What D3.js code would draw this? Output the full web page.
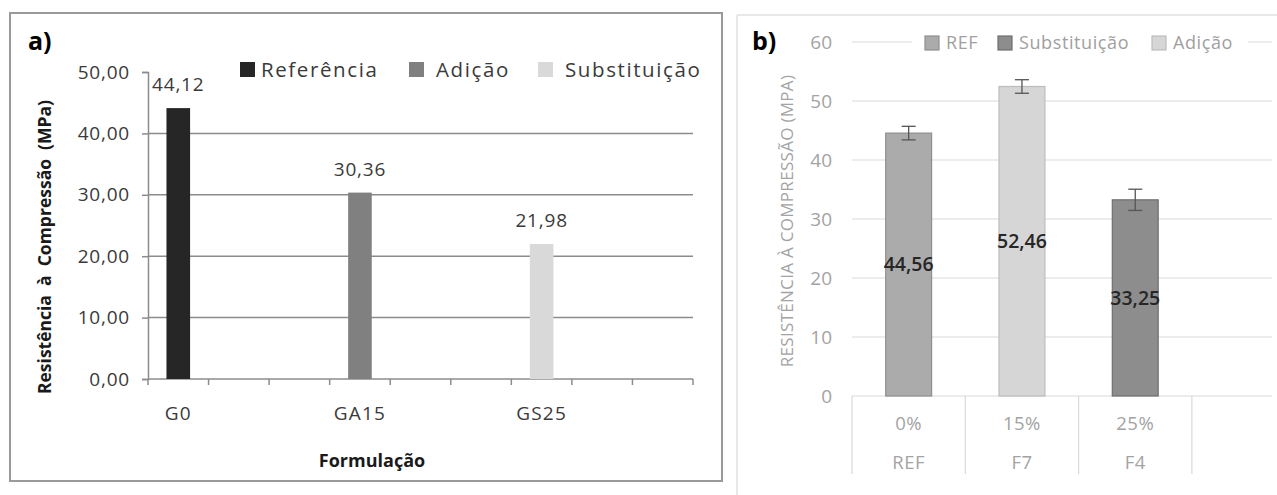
<!DOCTYPE html>
<html>
<head>
<meta charset="utf-8">
<script src="https://cdn.jsdelivr.net/npm/d3@7"></script>
<style>
  html, body { margin: 0; padding: 0; background: #fff; }
  svg { display: block; font-family: "Open Sans", "Noto Sans", sans-serif; }
</style>
</head>
<body>
<svg id="chart" width="1277" height="495"></svg>
<script>
// ---- Panel a: compressive strength by formulation ----
const categoriesA = ["G0", "GA15", "GS25"];
const seriesA = ["Referência", "Adição", "Substituição"];
const valuesA = [44.12, 30.36, 21.98];
const yTicksA = [0, 10, 20, 30, 40, 50];

// ---- Panel b: compressive strength with error bars ----
const codesB = ["REF", "F7", "F4"];
const percentsB = ["0%", "15%", "25%"];
const seriesB = ["REF", "Substituição", "Adição"];
const barSeriesB = ["REF", "Adição", "Substituição"];
const valuesB = [44.56, 52.46, 33.25];
const errorsB = [1.15, 1.15, 1.8];
const yTicksB = [0, 10, 20, 30, 40, 50, 60];

const ptLocale = d3.formatLocale({ decimal: ",", thousands: ".", grouping: [3], currency: ["R$", ""] });
const fmt2 = ptLocale.format(".2f");

const svg = d3.select("#chart");

// ================= Panel a =================
const colorA = d3.scaleOrdinal().domain(seriesA).range(["#262626", "#808080", "#d9d9d9"]);
const gA = svg.append("g");

gA.append("rect")
  .attr("x", 10).attr("y", 13).attr("width", 712).attr("height", 468)
  .attr("fill", "#fff").attr("stroke", "#9a9a9a").attr("stroke-width", 2);

const yA = d3.scaleLinear().domain([0, 50]).range([379, 72]);
// nine slots along the axis; each formulation sits every third slot
const slotsA = d3.range(9);
const xA = d3.scaleBand().domain(slotsA).range([148, 693]);
const slotOf = i => i * 3;

// horizontal gridlines
gA.append("g").selectAll("line")
  .data(yTicksA.filter(t => t > 0 && t < 50))
  .join("line")
  .attr("x1", 148).attr("x2", 693)
  .attr("y1", d => yA(d)).attr("y2", d => yA(d))
  .attr("stroke", "#8c8c8c").attr("stroke-width", 1.5);

// y axis
const yAxisA = d3.axisLeft(yA).tickValues(yTicksA).tickSize(6).tickPadding(12).tickFormat(fmt2);
const gyA = gA.append("g").attr("transform", "translate(148,0)").call(yAxisA);
gyA.select(".domain").attr("stroke", "#8c8c8c").attr("stroke-width", 1.5);
gyA.selectAll(".tick line").attr("stroke", "#8c8c8c").attr("stroke-width", 1.5);
gyA.selectAll(".tick text")
  .attr("font-family", "Open Sans").attr("font-size", 19).attr("letter-spacing", 0.8)
  .attr("fill", "#3a3a3a");

// x axis with ticks between slots
const gxA = gA.append("g");
gxA.append("line").attr("x1", 148).attr("x2", 693).attr("y1", 379).attr("y2", 379)
  .attr("stroke", "#8c8c8c").attr("stroke-width", 1.5);
gxA.selectAll("line.tk")
  .data(d3.range(10))
  .join("line").attr("class", "tk")
  .attr("x1", d => 148 + d * xA.step()).attr("x2", d => 148 + d * xA.step())
  .attr("y1", 379).attr("y2", 385)
  .attr("stroke", "#8c8c8c").attr("stroke-width", 1.5);
gxA.selectAll("text")
  .data(categoriesA)
  .join("text")
  .attr("x", (d, i) => xA(slotOf(i)) + xA.bandwidth() / 2)
  .attr("y", 420)
  .attr("text-anchor", "middle")
  .attr("font-size", 19).attr("letter-spacing", 1.2)
  .attr("fill", "#3a3a3a")
  .text(d => d);

// bars
const barWA = xA.bandwidth() * 0.39;
gA.append("g").selectAll("rect")
  .data(valuesA)
  .join("rect")
  .attr("x", (d, i) => xA(slotOf(i)) + xA.bandwidth() / 2 - barWA / 2)
  .attr("y", d => yA(d))
  .attr("width", barWA)
  .attr("height", d => yA(0) - yA(d))
  .attr("fill", (d, i) => colorA(seriesA[i]));

// value labels
gA.append("g").selectAll("text")
  .data(valuesA)
  .join("text")
  .attr("x", (d, i) => xA(slotOf(i)) + xA.bandwidth() / 2)
  .attr("y", d => yA(d) - 17)
  .attr("text-anchor", "middle")
  .attr("font-size", 19).attr("letter-spacing", 0.8)
  .attr("fill", "#3a3a3a")
  .text(d => fmt2(d));

// legend
const legA = gA.append("g");
const legXA = [240, 409, 538];
seriesA.forEach((s, i) => {
  legA.append("rect").attr("x", legXA[i]).attr("y", 62).attr("width", 15).attr("height", 15)
    .attr("fill", colorA(s));
  legA.append("text").attr("x", legXA[i] + (i === 0 ? 21 : 27)).attr("y", 77)
    .attr("font-size", 20.5).attr("letter-spacing", 1.6).attr("fill", "#3a3a3a")
    .text(s);
});

// titles
gA.append("text").attr("x", 28).attr("y", 50)
  .attr("font-size", 25).attr("font-weight", 700).attr("fill", "#000").text("a)");
gA.append("text")
  .attr("transform", "translate(51,247) rotate(-90)")
  .attr("text-anchor", "middle")
  .attr("font-size", 17.5).attr("font-weight", 700).attr("fill", "#1a1a1a")
  .attr("xml:space", "preserve").style("white-space", "pre")
  .text("Resistência  à  Compressão  (MPa)");
gA.append("text").attr("x", 372).attr("y", 467)
  .attr("text-anchor", "middle")
  .attr("font-size", 18).attr("font-weight", 700).attr("fill", "#1a1a1a")
  .text("Formulação");

// ================= Panel b =================
const gB = svg.append("g");
const colorB = d3.scaleOrdinal().domain(seriesB).range(["#ababab", "#8d8d8d", "#d6d6d6"]);
const strokeB = d3.scaleOrdinal().domain(seriesB).range(["#8f8f8f", "#6f6f6f", "#bdbdbd"]);

// frame edges
gB.append("line").attr("x1", 737).attr("x2", 1277).attr("y1", 15).attr("y2", 15)
  .attr("stroke", "#e0e0e0").attr("stroke-width", 1.5);
gB.append("line").attr("x1", 737).attr("x2", 737).attr("y1", 15).attr("y2", 495)
  .attr("stroke", "#e0e0e0").attr("stroke-width", 1.5);

const yB = d3.scaleLinear().domain([0, 60]).range([396, 42]);
const slotsB = d3.range(4);
const xB = d3.scaleBand().domain(slotsB).range([852, 852 + 4 * 113.3]);

// gridlines
gB.append("g").selectAll("line")
  .data(yTicksB)
  .join("line")
  .attr("x1", 852).attr("x2", 1272)
  .attr("y1", d => yB(d)).attr("y2", d => yB(d))
  .attr("stroke", "#d9d9d9").attr("stroke-width", 1.2);

// y tick labels
gB.append("g").selectAll("text")
  .data(yTicksB)
  .join("text")
  .attr("x", 832).attr("y", d => yB(d))
  .attr("dy", "0.35em")
  .attr("text-anchor", "end")
  .attr("font-size", 19).attr("fill", "#a3a3a3")
  .text(d => d);

// category separators and two-level labels
gB.append("g").selectAll("line")
  .data(d3.range(4))
  .join("line")
  .attr("x1", d => xB(d)).attr("x2", d => xB(d))
  .attr("y1", 396).attr("y2", 474)
  .attr("stroke", "#d9d9d9").attr("stroke-width", 1.2);
gB.append("g").selectAll("text")
  .data(percentsB)
  .join("text")
  .attr("x", (d, i) => xB(i) + xB.bandwidth() / 2).attr("y", 430)
  .attr("text-anchor", "middle")
  .attr("font-size", 18.5).attr("letter-spacing", 0.5).attr("fill", "#a3a3a3")
  .text(d => d);
gB.append("g").selectAll("text")
  .data(codesB)
  .join("text")
  .attr("x", (d, i) => xB(i) + xB.bandwidth() / 2).attr("y", 469)
  .attr("text-anchor", "middle")
  .attr("font-size", 18.5).attr("letter-spacing", 0.5).attr("fill", "#a3a3a3")
  .text(d => d);

// bars
const barWB = xB.bandwidth() * 0.405;
gB.append("g").selectAll("rect")
  .data(valuesB)
  .join("rect")
  .attr("x", (d, i) => xB(i) + xB.bandwidth() / 2 - barWB / 2)
  .attr("y", d => yB(d))
  .attr("width", barWB)
  .attr("height", d => yB(0) - yB(d))
  .attr("fill", (d, i) => colorB(barSeriesB[i]))
  .attr("stroke", (d, i) => strokeB(barSeriesB[i]))
  .attr("stroke-width", 1.2);

// error bars
const errG = gB.append("g").attr("stroke", "#555").attr("stroke-width", 1.3);
valuesB.forEach((v, i) => {
  const cx = xB(i) + xB.bandwidth() / 2;
  const e = errorsB[i];
  errG.append("line").attr("x1", cx).attr("x2", cx).attr("y1", yB(v + e)).attr("y2", yB(v - e));
  errG.append("line").attr("x1", cx - 7).attr("x2", cx + 7).attr("y1", yB(v + e)).attr("y2", yB(v + e));
  errG.append("line").attr("x1", cx - 7).attr("x2", cx + 7).attr("y1", yB(v - e)).attr("y2", yB(v - e));
});

// value labels at mid-height of bars
gB.append("g").selectAll("text")
  .data(valuesB)
  .join("text")
  .attr("x", (d, i) => xB(i) + xB.bandwidth() / 2)
  .attr("y", d => yB(d / 2))
  .attr("dy", "0.35em")
  .attr("text-anchor", "middle")
  .attr("font-size", 19.5).attr("font-weight", 600).attr("fill", "#262626")
  .text(d => fmt2(d));

// legend over the top gridline
const legB = gB.append("g");
legB.append("rect").attr("x", 912).attr("y", 30).attr("width", 336).attr("height", 26).attr("fill", "#fff");
const legXB = [925, 998, 1152];
const legTXB = [946, 1019, 1173];
seriesB.forEach((s, i) => {
  legB.append("rect").attr("x", legXB[i]).attr("y", 36).attr("width", 14).attr("height", 14)
    .attr("fill", colorB(s)).attr("stroke", strokeB(s)).attr("stroke-width", 1.2);
  legB.append("text").attr("x", legTXB[i]).attr("y", 43).attr("dy", "0.35em")
    .attr("font-size", 18).attr("letter-spacing", 0.6).attr("fill", "#a0a0a0")
    .text(s);
});

// titles
gB.append("text").attr("x", 752).attr("y", 50)
  .attr("font-size", 25).attr("font-weight", 700).attr("fill", "#000").text("b)");
gB.append("text")
  .attr("transform", "translate(787,221) rotate(-90)")
  .attr("text-anchor", "middle").attr("dy", "0.35em")
  .attr("font-size", 17).attr("letter-spacing", 0.3).attr("fill", "#a3a3a3")
  .text("RESISTÊNCIA À COMPRESSÃO (MPA)");
</script>
</body>
</html>
